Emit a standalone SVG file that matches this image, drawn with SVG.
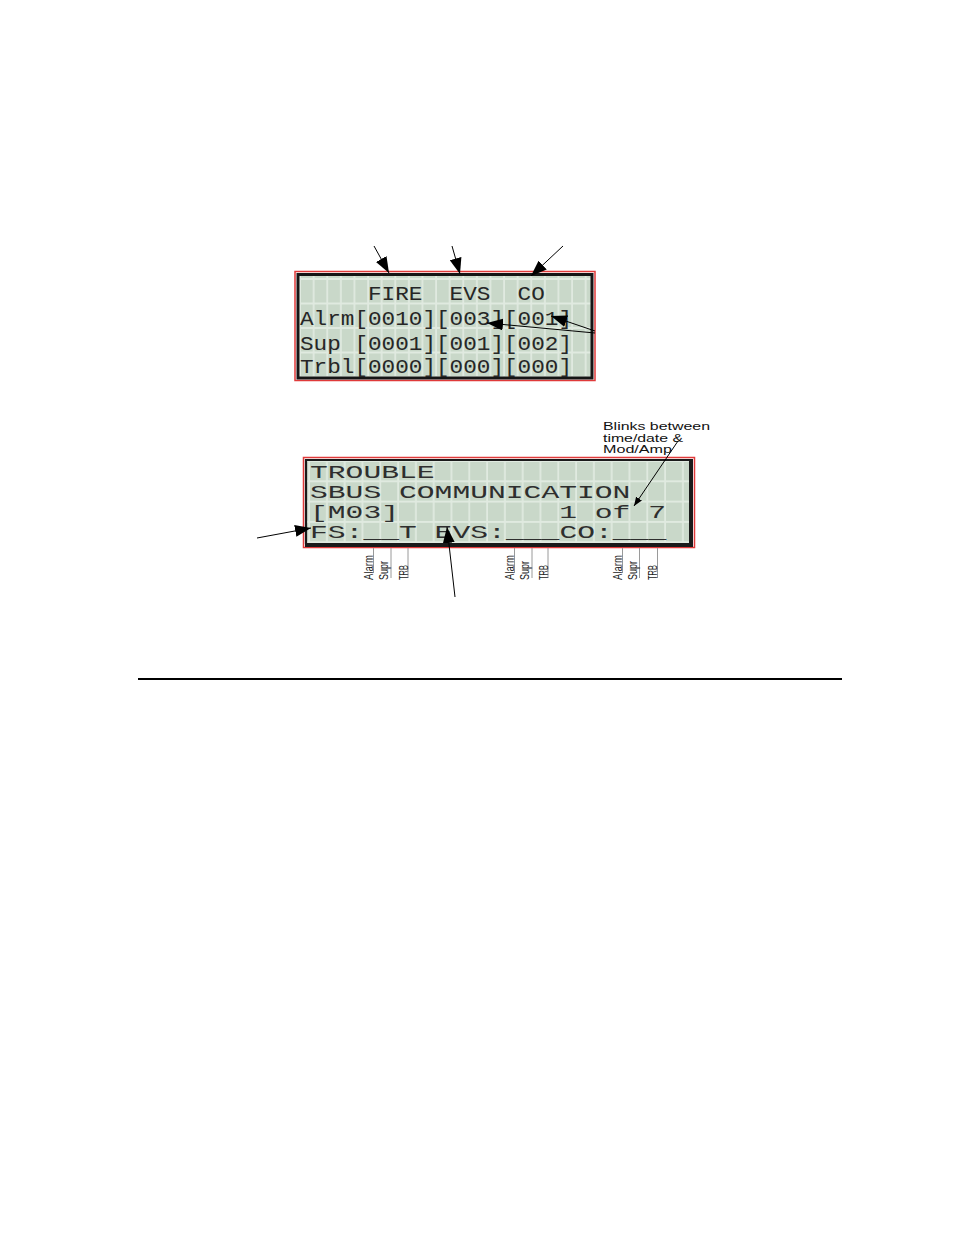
<svg xmlns="http://www.w3.org/2000/svg" width="954" height="1235" viewBox="0 0 954 1235">
<style>
.lcd1{font-family:"Liberation Mono","DejaVu Sans Mono",monospace;font-size:21px;fill:#262626}
.lcd2{font-family:"Liberation Mono","DejaVu Sans Mono",monospace;font-size:17.5px;fill:#2e2e2e}
.lbl{font-family:"Liberation Sans Narrow","Liberation Sans",Arial,sans-serif;font-size:12px;fill:#222}
.note{font-family:"Liberation Sans",Arial,sans-serif;font-size:11.5px;fill:#111}
.tick{stroke:#9a9a9a;stroke-width:1}
.arr{stroke:#000;stroke-width:1;fill:none}
</style>
<defs>
<pattern id="g1" patternUnits="userSpaceOnUse" x="300" y="279" width="13.6" height="24.5">
<rect width="13.6" height="24.5" fill="#e0eae0"/>
<rect x="1" y="1" width="11.8" height="22.5" fill="#c9d8c9"/>
</pattern>
<pattern id="g2" patternUnits="userSpaceOnUse" x="309" y="461" width="17.8" height="20.3">
<rect width="17.8" height="20.3" fill="#e0eae0"/>
<rect x="1" y="1" width="16" height="18.3" fill="#c9d8c9"/>
</pattern>
<marker id="ah" markerUnits="userSpaceOnUse" markerWidth="17" markerHeight="12" refX="16" refY="6" orient="auto">
<path d="M0,0 L16,6 L0,12 z" fill="#000"/>
</marker>
<marker id="ahs" markerUnits="userSpaceOnUse" markerWidth="10" markerHeight="8" refX="9" refY="4" orient="auto">
<path d="M0,0.5 L9,4 L0,7.5 z" fill="#000"/>
</marker>
</defs>

<g id="lcd-top">
<rect x="295" y="271.5" width="300" height="109" fill="none" stroke="#e03a3a" stroke-width="1.5"/>
<rect x="298" y="274.5" width="294" height="103.5" fill="url(#g1)" stroke="#151515" stroke-width="3"/>
<text class="lcd1" x="368" y="300" textLength="54.4" lengthAdjust="spacingAndGlyphs">FIRE</text>
<text class="lcd1" x="449.6" y="300" textLength="40.8" lengthAdjust="spacingAndGlyphs">EVS</text>
<text class="lcd1" x="517.6" y="300" textLength="27.2" lengthAdjust="spacingAndGlyphs">CO</text>
<text class="lcd1" x="300" y="325" textLength="272" lengthAdjust="spacingAndGlyphs">Alrm[0010][003][001]</text>
<text class="lcd1" x="300" y="349.5" textLength="40.8" lengthAdjust="spacingAndGlyphs">Sup</text>
<text class="lcd1" x="354.4" y="349.5" textLength="217.6" lengthAdjust="spacingAndGlyphs">[0001][001][002]</text>
<text class="lcd1" x="300" y="373" textLength="272" lengthAdjust="spacingAndGlyphs">Trbl[0000][000][000]</text>
</g>

<g id="lcd-bottom">
<rect x="303.5" y="457.5" width="391" height="90" fill="none" stroke="#e03a3a" stroke-width="1.5"/>
<rect x="306" y="460" width="385" height="84" fill="url(#g2)"/>
<path d="M306,544 V460 H691" fill="none" stroke="#1a1a1a" stroke-width="2.2"/>
<path d="M691,459 V545 H305" fill="none" stroke="#1a1a1a" stroke-width="4"/>
<text class="lcd2" x="310" y="478" textLength="124.6" lengthAdjust="spacingAndGlyphs">TROUBLE</text>
<text class="lcd2" x="310" y="498" textLength="71.2" lengthAdjust="spacingAndGlyphs">SBUS</text>
<text class="lcd2" x="399" y="498" textLength="231.4" lengthAdjust="spacingAndGlyphs">COMMUNICATION</text>
<text class="lcd2" x="310" y="518" textLength="89" lengthAdjust="spacingAndGlyphs">[M03]</text>
<text class="lcd2" x="559.2" y="518" textLength="17.8" lengthAdjust="spacingAndGlyphs">1</text>
<text class="lcd2" x="594.8" y="518" textLength="35.6" lengthAdjust="spacingAndGlyphs">of</text>
<text class="lcd2" x="648.2" y="518" textLength="17.8" lengthAdjust="spacingAndGlyphs">7</text>
<text class="lcd2" x="310" y="538" textLength="53.4" lengthAdjust="spacingAndGlyphs">FS:</text>
<text class="lcd2" x="363.4" y="538" textLength="53.4" lengthAdjust="spacingAndGlyphs">__T</text>
<text class="lcd2" x="434.6" y="538" textLength="71.2" lengthAdjust="spacingAndGlyphs">EVS:</text>
<text class="lcd2" x="506" y="538" textLength="53.4" lengthAdjust="spacingAndGlyphs">___</text>
<text class="lcd2" x="559.4" y="538" textLength="53.4" lengthAdjust="spacingAndGlyphs">CO:</text>
<text class="lcd2" x="612.8" y="538" textLength="53.4" lengthAdjust="spacingAndGlyphs">___</text>
</g>

<g id="note-blinks">
<text class="note" x="603" y="430" textLength="107" lengthAdjust="spacingAndGlyphs">Blinks between</text>
<text class="note" x="603" y="441.5" textLength="80" lengthAdjust="spacingAndGlyphs">time/date &amp;</text>
<text class="note" x="603" y="453" textLength="69" lengthAdjust="spacingAndGlyphs">Mod/Amp</text>
</g>

<g id="labels">
<line class="tick" x1="373.5" y1="548" x2="373.5" y2="573"/>
<line class="tick" x1="391" y1="548" x2="391" y2="578"/>
<line class="tick" x1="408" y1="548" x2="408" y2="578"/>
<line class="tick" x1="514.5" y1="548" x2="514.5" y2="573"/>
<line class="tick" x1="532" y1="548" x2="532" y2="578"/>
<line class="tick" x1="548" y1="548" x2="548" y2="578"/>
<line class="tick" x1="622.5" y1="548" x2="622.5" y2="573"/>
<line class="tick" x1="639.5" y1="548" x2="639.5" y2="578"/>
<line class="tick" x1="657.5" y1="548" x2="657.5" y2="578"/>
<text class="lbl" transform="translate(372.5,580) rotate(-90)" textLength="25" lengthAdjust="spacingAndGlyphs">Alarm</text>
<text class="lbl" transform="translate(388,580) rotate(-90)" textLength="19" lengthAdjust="spacingAndGlyphs">Supr</text>
<text class="lbl" transform="translate(407.5,580) rotate(-90)" textLength="15" lengthAdjust="spacingAndGlyphs">TRB</text>
<text class="lbl" transform="translate(513.5,580) rotate(-90)" textLength="25" lengthAdjust="spacingAndGlyphs">Alarm</text>
<text class="lbl" transform="translate(529,580) rotate(-90)" textLength="19" lengthAdjust="spacingAndGlyphs">Supr</text>
<text class="lbl" transform="translate(547.5,580) rotate(-90)" textLength="15" lengthAdjust="spacingAndGlyphs">TRB</text>
<text class="lbl" transform="translate(622,580) rotate(-90)" textLength="25" lengthAdjust="spacingAndGlyphs">Alarm</text>
<text class="lbl" transform="translate(636.5,580) rotate(-90)" textLength="19" lengthAdjust="spacingAndGlyphs">Supr</text>
<text class="lbl" transform="translate(657,580) rotate(-90)" textLength="15" lengthAdjust="spacingAndGlyphs">TRB</text>
</g>

<g id="connectors">
<line class="arr" x1="374" y1="246" x2="389" y2="273" marker-end="url(#ah)"/>
<line class="arr" x1="452" y1="246" x2="460" y2="274" marker-end="url(#ah)"/>
<line class="arr" x1="563" y1="246" x2="531" y2="276" marker-end="url(#ah)"/>
<line class="arr" x1="595" y1="333" x2="487" y2="323" marker-end="url(#ah)"/>
<line class="arr" x1="595" y1="331" x2="551" y2="316" marker-end="url(#ah)"/>
<line class="arr" x1="678" y1="441" x2="634" y2="506" marker-end="url(#ahs)"/>
<line class="arr" x1="257" y1="538" x2="311" y2="528" marker-end="url(#ah)"/>
<line class="arr" x1="455" y1="597" x2="447" y2="527" marker-end="url(#ah)"/>
</g>

<line x1="138" y1="679" x2="842" y2="679" stroke="#000" stroke-width="2"/>
</svg>
